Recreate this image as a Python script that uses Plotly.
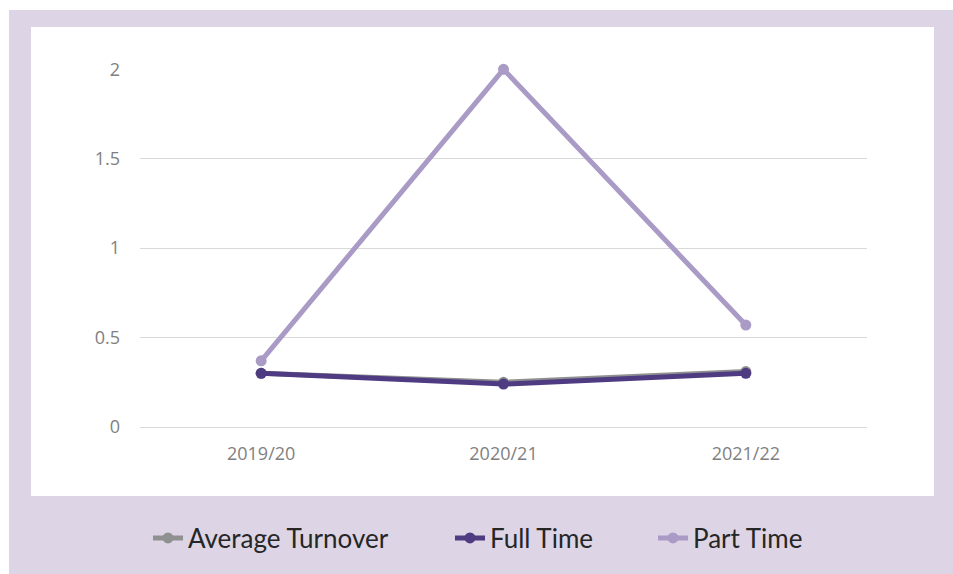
import plotly.graph_objects as go

categories = ["2019/20", "2020/21", "2021/22"]
average_turnover = [0.30, 0.25, 0.31]
full_time = [0.30, 0.24, 0.30]
part_time = [0.37, 2.0, 0.57]
y_ticks = [0, 0.5, 1, 1.5, 2]
y_tick_labels = ["0", "0.5", "1", "1.5", "2"]

W, H = 953, 574
LAV = "#DDD5E6"
L, R, T, B = 140, 867, 69, 427
PW, PH = R - L, B - T

fig = go.Figure()
series = [
    ("Average Turnover", average_turnover, "#8F9190", "legend", 148),
    ("Full Time", full_time, "#4E3B82", "legend2", 450),
    ("Part Time", part_time, "#A99BC6", "legend3", 653),
]
order = [2, 0, 1]  # Part Time below, Full Time on top
for i in order:
    name, vals, col, lg, _ = series[i]
    fig.add_trace(go.Scatter(
        x=categories, y=vals, name=name, mode="lines+markers",
        line=dict(color=col, width=5), marker=dict(color=col, size=11),
        cliponaxis=False, legend=lg,
    ))

shapes = [
    dict(type="rect", xref="paper", yref="paper",
         x0=(9 - L) / PW, x1=(W + 5 - L) / PW,
         y0=(B - H - 5) / PH, y1=(B - 10) / PH,
         fillcolor=LAV, line=dict(width=0), layer="below"),
    dict(type="rect", xref="paper", yref="paper",
         x0=(31 - L) / PW, x1=(934 - L) / PW,
         y0=(B - 496) / PH, y1=(B - 27) / PH,
         fillcolor="white", line=dict(width=0), layer="below"),
]

def legend_at(px):
    return dict(orientation="h", xanchor="left", x=(px - L) / PW,
                yanchor="middle", y=(B - 538) / PH,
                font=dict(family="Lato", size=26, color="#262626"),
                bgcolor="rgba(0,0,0,0)", borderwidth=0)

fig.update_layout(
    width=W, height=H,
    paper_bgcolor="white", plot_bgcolor="rgba(0,0,0,0)",
    margin=dict(l=L, r=W - R, t=T, b=H - B, pad=0),
    shapes=shapes,
    showlegend=True,
    legend=legend_at(series[0][4]),
    legend2=legend_at(series[1][4]),
    legend3=legend_at(series[2][4]),
    font=dict(family="Open Sans", color="#7F7F7F"),
)

fig.update_xaxes(type="category", range=[-0.5, 2.5], showgrid=False,
                 showline=True, linecolor="#D9D9D9", linewidth=1,
                 ticks="", tickfont=dict(size=18, color="#7F7F7F"), ticklabelstandoff=10)
fig.update_yaxes(range=[0, 2.002], tickvals=y_ticks, ticktext=y_tick_labels,
                 showgrid=True, gridcolor="#D9D9D9", gridwidth=1,
                 zeroline=False, showline=False, ticks="",
                 tickfont=dict(size=18, color="#7F7F7F"), ticklabelstandoff=19)

fig.write_html("out.html", config={"displayModeBar": False},
               post_script="document.body.style.margin='0';")
